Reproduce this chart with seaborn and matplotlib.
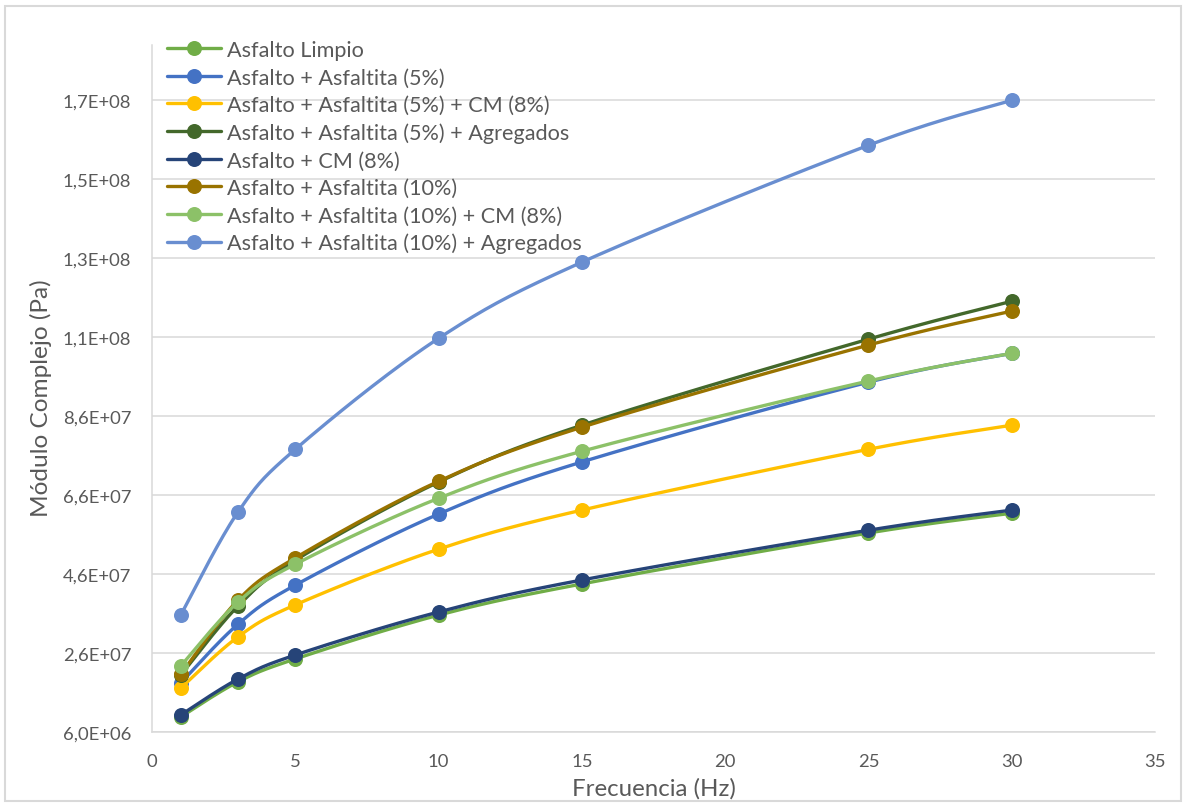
import numpy as np
import pandas as pd
import matplotlib
matplotlib.use("Agg")
import matplotlib.pyplot as plt
from matplotlib.lines import Line2D
from matplotlib.patches import Rectangle
import seaborn as sns

# ---------------- data ----------------
frecuencia = [1, 3, 5, 10, 15, 25, 30]

series_names = [
    "Asfalto Limpio",
    "Asfalto + Asfaltita (5%)",
    "Asfalto + Asfaltita (5%) + CM (8%)",
    "Asfalto + Asfaltita (5%) + Agregados",
    "Asfalto + CM (8%)",
    "Asfalto + Asfaltita (10%)",
    "Asfalto + Asfaltita (10%) + CM (8%)",
    "Asfalto + Asfaltita (10%) + Agregados",
]

asfalto_limpio = [9.8e6, 1.87e7, 2.45e7, 3.56e7, 4.35e7, 5.64e7, 6.14e7]
asfaltita_5 = [1.84e7, 3.33e7, 4.32e7, 6.12e7, 7.44e7, 9.46e7, 1.019e8]
asfaltita_5_cm = [1.71e7, 3.01e7, 3.82e7, 5.23e7, 6.22e7, 7.76e7, 8.37e7]
asfaltita_5_agreg = [2.04e7, 3.79e7, 4.95e7, 6.93e7, 8.37e7, 1.055e8, 1.151e8]
asfalto_cm = [1.03e7, 1.94e7, 2.55e7, 3.64e7, 4.45e7, 5.71e7, 6.22e7]
asfaltita_10 = [2.06e7, 3.94e7, 5.01e7, 6.95e7, 8.32e7, 1.04e8, 1.126e8]
asfaltita_10_cm = [2.27e7, 3.89e7, 4.85e7, 6.52e7, 7.71e7, 9.49e7, 1.019e8]
asfaltita_10_agreg = [3.56e7, 6.17e7, 7.76e7, 1.057e8, 1.25e8, 1.546e8, 1.66e8]

series_values = [asfalto_limpio, asfaltita_5, asfaltita_5_cm, asfaltita_5_agreg,
                 asfalto_cm, asfaltita_10, asfaltita_10_cm, asfaltita_10_agreg]

colors = ["#70AD47", "#4472C4", "#FFC000", "#43682B",
          "#264478", "#997300", "#8CC168", "#698ED0"]

x_ticks = [0, 5, 10, 15, 20, 25, 30, 35]
y_ticks = [6.0e6, 2.6e7, 4.6e7, 6.6e7, 8.6e7, 1.06e8, 1.26e8, 1.46e8, 1.66e8]
y_tick_labels = ["6,0E+06", "2,6E+07", "4,6E+07", "6,6E+07", "8,6E+07",
                 "1,1E+08", "1,3E+08", "1,5E+08", "1,7E+08"]

x_label = "Frecuencia (Hz)"
y_label = "Módulo Complejo (Pa)"


def smooth(xs, ys, n=30):
    """Excel-like smoothed line (Catmull-Rom Bezier) through the data points."""
    P = np.column_stack([xs, ys]).astype(float)
    out = []
    for i in range(len(P) - 1):
        p0 = P[i - 1] if i > 0 else P[i]
        p1 = P[i]
        p2 = P[i + 1]
        p3 = P[i + 2] if i + 2 < len(P) else P[i + 1]
        c1 = p1 + (p2 - p0) / 6.0
        c2 = p2 - (p3 - p1) / 6.0
        t = np.linspace(0, 1, n, endpoint=(i == len(P) - 2))[:, None]
        seg = ((1 - t) ** 3) * p1 + 3 * ((1 - t) ** 2) * t * c1 + 3 * (1 - t) * t ** 2 * c2 + t ** 3 * p2
        out.append(seg)
    arr = np.vstack(out)
    return arr[:, 0], arr[:, 1]


sns.set_theme(style="white")
plt.rcParams["font.family"] = ["Lato", "DejaVu Sans"]

W, H = 1184, 804
fig = plt.figure(figsize=(W / 100, H / 100), dpi=100)
ax = fig.add_axes([152 / W, 1 - 733 / H, (1155 - 152) / W, (733 - 46) / H])

grid_c = "#D9D9D9"
text_c = "#595959"
LW = 2.4

for k, (name, vals, c) in enumerate(zip(series_names, series_values, colors)):
    sx, sy = smooth(frecuencia, vals)
    df = pd.DataFrame({"x": sx, "y": sy})
    sns.lineplot(data=df, x="x", y="y", sort=False, estimator=None, color=c,
                 lw=LW, ax=ax, zorder=3 + 2 * k)
    sns.scatterplot(x=frecuencia, y=vals, color=c, s=117, linewidth=0,
                    ax=ax, zorder=4 + 2 * k, legend=False)

ax.set_xlim(0, 35)
ax.set_ylim(6.0e6, 1.8e8)
ax.set_xticks(x_ticks)
ax.set_xticklabels([str(v) for v in x_ticks])
ax.set_yticks(y_ticks)
ax.set_yticklabels(y_tick_labels)
ax.tick_params(axis="both", length=0, labelsize=13.3, colors=text_c)
ax.tick_params(axis="y", pad=15)
ax.tick_params(axis="x", pad=15)

ax.yaxis.grid(True, color=grid_c, lw=1.1)
ax.xaxis.grid(False)
ax.set_axisbelow(True)
for s in ["top", "right"]:
    ax.spines[s].set_visible(False)
for s in ["left", "bottom"]:
    ax.spines[s].set_color(grid_c)
    ax.spines[s].set_linewidth(1.1)

ax.set_xlabel(x_label, fontsize=17.3, color=text_c, labelpad=6)
ax.set_ylabel(y_label, fontsize=17.6, color=text_c)
ax.yaxis.label.set_va("center")
ax.yaxis.set_label_coords((41 - 152) / 1003, (733 - 398) / 687)

handles = [Line2D([], [], color=c, lw=LW, marker="o", markersize=10.8, markeredgewidth=0)
           for c in colors]
leg = ax.legend(handles, series_names, loc="upper left", bbox_to_anchor=(0.0065, 1.02),
                frameon=False, fontsize=15.6, handlelength=2.5, handletextpad=0.24,
                labelspacing=0.345, borderaxespad=0)
for t in leg.get_texts():
    t.set_color(text_c)

fig.patches.append(Rectangle((5 / W, 2 / H), (1181 - 5) / W, (799 - 4) / H,
                             transform=fig.transFigure, fill=False,
                             edgecolor="#D9D9D9", lw=1.5))

fig.savefig("out.png", dpi=100)
